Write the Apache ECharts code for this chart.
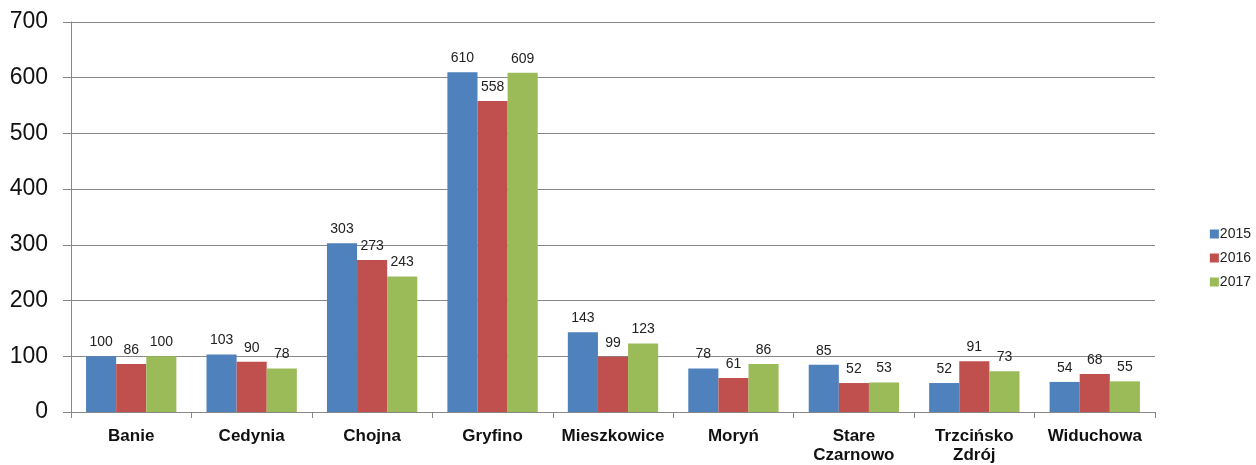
<!DOCTYPE html>
<html><head><meta charset="utf-8">
<script src="https://cdn.jsdelivr.net/npm/echarts@6/dist/echarts.min.js"></script>
<style>html,body{margin:0;padding:0;background:#fff}#c{width:1256px;height:465px}</style>
</head><body><div id="c"></div>
<script>
const categories = ['Banie','Cedynia','Chojna','Gryfino','Mieszkowice','Moryń','Stare\nCzarnowo','Trzcińsko\nZdrój','Widuchowa'];
const s2015 = [100,103,303,610,143,78,85,52,54];
const s2016 = [86,90,273,558,99,61,52,91,68];
const s2017 = [100,78,243,609,123,86,53,73,55];
const yTicks = [0,100,200,300,400,500,600,700];

const font = '"Liberation Sans", Arial, sans-serif';
function mk(name, data, color){
  return {name, type:'bar', data, barGap:'0%', barCategoryGap:'25%',
    itemStyle:{color},
    label:{show:true, position:'top', distance:7, color:'#222', fontSize:14, fontFamily:font}};
}
const chart = echarts.init(document.getElementById('c'));
chart.setOption({
  animation:false,
  textStyle:{fontFamily:font},
  grid:{left:71, right:101, top:22, bottom:53, containLabel:false},
  legend:{orient:'vertical', right:0, top:222, icon:'rect', itemWidth:9, itemHeight:9, itemGap:10,
    textStyle:{fontSize:14, color:'#222', fontFamily:font, padding:[0,0,0,-4]},
    data:['2015','2016','2017']},
  xAxis:{type:'category', data:categories,
    axisLine:{lineStyle:{color:'#888'}},
    axisTick:{show:true, length:6, lineStyle:{color:'#888'}},
    axisLabel:{fontSize:17, fontWeight:'bold', color:'#111', margin:15, lineHeight:19, interval:0, fontFamily:font}},
  yAxis:{type:'value', min:yTicks[0], max:yTicks[yTicks.length-1], interval:100,
    axisLine:{show:true, lineStyle:{color:'#888'}},
    axisTick:{show:true, length:8, lineStyle:{color:'#888'}},
    splitLine:{lineStyle:{color:'#888'}},
    axisLabel:{fontSize:23, color:'#111', margin:23, fontFamily:font}},
  series:[mk('2015',s2015,'#4F81BD'), mk('2016',s2016,'#C0504D'), mk('2017',s2017,'#9BBB59')]
});
</script></body></html>
